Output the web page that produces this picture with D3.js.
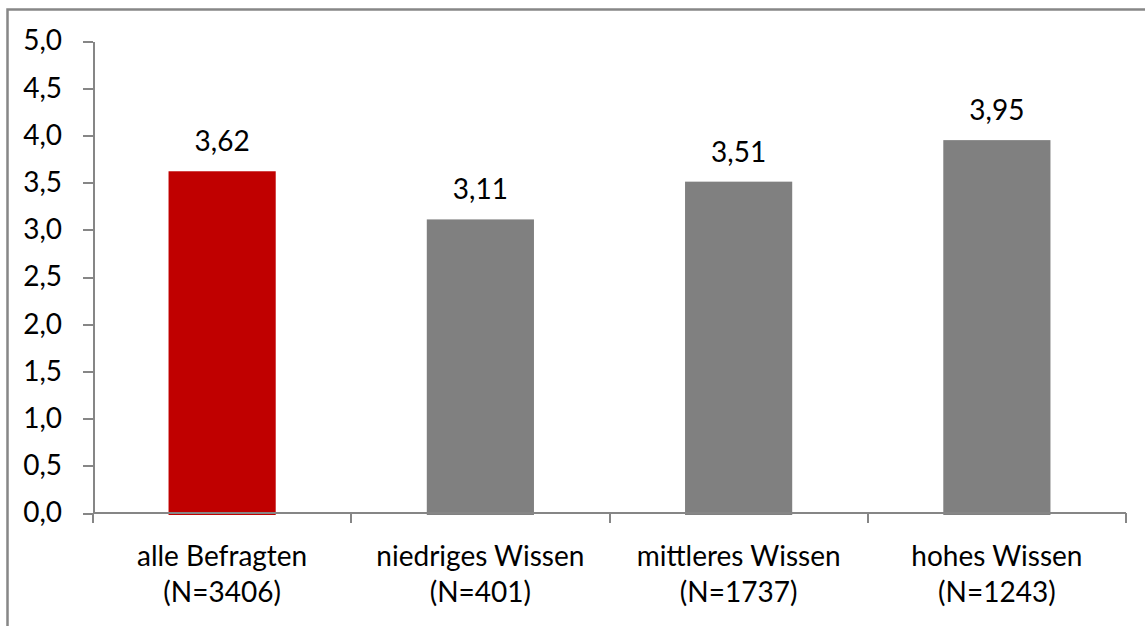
<!DOCTYPE html>
<meta charset="utf-8">
<style>
body, html {
  margin: 0;
  padding: 0;
  background: #fff;
  overflow: hidden;
}
text {
  font-family: Lato, "Liberation Sans", sans-serif;
  fill: #000;
}
.axis path, .axis line {
  stroke: #868686;
  stroke-width: 2px;
  fill: none;
  shape-rendering: crispEdges;
}
</style>
<svg width="1145" height="626"></svg>
<script src="https://d3js.org/d3.v7.min.js"></script>
<script>

var categories = ["alle Befragten", "niedriges Wissen", "mittleres Wissen", "hohes Wissen"],
    sampleSizes = ["(N=3406)", "(N=401)", "(N=1737)", "(N=1243)"],
    values = [3.62, 3.11, 3.51, 3.95],
    barColors = ["#c00000", "#808080", "#808080", "#808080"],
    yTicks = [0, 0.5, 1, 1.5, 2, 2.5, 3, 3.5, 4, 4.5, 5];

var svg = d3.select("svg");

// outer frame (runs off the right and bottom edge)
svg.append("rect")
    .attr("x", 7.5).attr("y", 9.5)
    .attr("width", 1200).attr("height", 700)
    .attr("fill", "#fff")
    .attr("stroke", "#878787")
    .attr("stroke-width", 2.5);

var x = d3.scaleBand()
    .domain(categories)
    .range([93, 1126])
    .padding(0);

var y = d3.scaleLinear()
    .domain([0, 5])
    .range([513, 41]);

var comma = function(d) { return d.toFixed(1).replace(".", ","); };

// y axis
var yAxis = svg.append("g")
    .attr("class", "axis")
    .attr("transform", "translate(93,0)")
    .call(d3.axisLeft(y).tickValues(yTicks).tickSize(10).tickSizeOuter(0).tickPadding(21).tickFormat(comma));

yAxis.selectAll("text")
    .style("font-size", "28px")
    .style("font-family", "Lato, 'Liberation Sans', sans-serif");

// bars
var barW = x.bandwidth() * 0.415;

svg.selectAll(".bar")
    .data(values)
    .enter().append("rect")
    .attr("class", "bar")
    .attr("x", function(d, i) { return x(categories[i]) + x.bandwidth() / 2 - barW / 2; })
    .attr("y", function(d) { return y(d); })
    .attr("width", barW)
    .attr("height", function(d) { return y(0) - y(d) + 2; })
    .attr("fill", function(d, i) { return barColors[i]; });

// value labels
svg.selectAll(".val")
    .data(values)
    .enter().append("text")
    .attr("class", "val")
    .attr("x", function(d, i) { return x(categories[i]) + x.bandwidth() / 2; })
    .attr("y", function(d) { return y(d) - 20; })
    .attr("text-anchor", "middle")
    .style("font-size", "28px")
    .text(function(d) { return d.toFixed(2).replace(".", ","); });

// x axis: baseline and boundary ticks
var xAxis = svg.append("g").attr("class", "axis");

xAxis.append("path")
    .attr("d", "M" + x.range()[0] + "," + y(0) + "H" + x.range()[1]);

var bounds = categories.map(function(c) { return x(c); }).concat([x.range()[1]]);

xAxis.selectAll("line")
    .data(bounds)
    .enter().append("line")
    .attr("x1", function(d) { return d; })
    .attr("x2", function(d) { return d; })
    .attr("y1", y(0))
    .attr("y2", y(0) + 10);

// category labels, two lines
var labels = svg.selectAll(".cat")
    .data(categories)
    .enter().append("text")
    .attr("class", "cat")
    .attr("text-anchor", "middle")
    .style("font-size", "28px");

labels.append("tspan")
    .attr("x", function(d) { return x(d) + x.bandwidth() / 2; })
    .attr("y", 566)
    .text(function(d) { return d; });

labels.append("tspan")
    .attr("x", function(d) { return x(d) + x.bandwidth() / 2; })
    .attr("y", 602)
    .text(function(d, i) { return sampleSizes[i]; });

</script>
